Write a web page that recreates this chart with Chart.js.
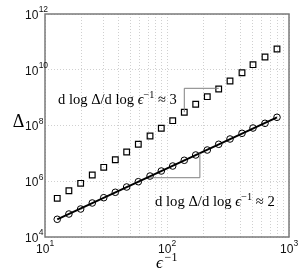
<!DOCTYPE html>
<html>
<head>
<meta charset="utf-8">
<script src="https://cdn.jsdelivr.net/npm/chart.js@4"></script>
<style>
  html, body { margin: 0; padding: 0; background: #fff; }
  #wrap { width: 304px; height: 280px; }
</style>
</head>
<body>
<div id="wrap"><canvas id="my-chart" width="304" height="280"></canvas></div>
<script>
// valeurs
const epsInv = [12.6, 15.7, 19.6, 24.4, 30.3, 37.7, 46.7, 58.2, 72.6, 89.8, 111.4, 138.6, 171.9, 213.9, 265.3, 328.5, 411.9, 506.9, 635.9, 797.3];
const deltaSquares = [2.44e5, 4.58e5, 8.43e5, 1.67e6, 3.16e6, 5.93e6, 1.12e7, 2.12e7, 4.20e7, 7.94e7, 1.49e8, 2.98e8, 5.77e8, 1.08e9, 2.04e9, 3.94e9, 7.83e9, 1.52e10, 2.86e10, 5.55e10];
const deltaCircles = [4.32e4, 6.68e4, 1.01e5, 1.66e5, 2.57e5, 4.02e5, 6.22e5, 9.64e5, 1.54e6, 2.33e6, 3.52e6, 5.65e6, 8.75e6, 1.32e7, 2.12e7, 3.28e7, 5.25e7, 8.13e7, 1.20e8, 1.97e8];
const fitX = [12.6, 797.3];
const fitY = [4.3e4, 1.97e8];
const slope3X = [138.6, 138.6, 265.3];
const slope3Y = [3.0e8, 2.16e9, 2.16e9];
const slope2X = [72.6, 186, 186];
const slope2Y = [1.34e6, 1.34e6, 1.0e7];
const xTicks = [10, 20, 30, 40, 50, 60, 70, 80, 90, 100, 200, 300, 400, 500, 600, 700, 800, 900, 1000];
const yTicks = [1e4, 1e6, 1e8, 1e10, 1e12];
const xExp = [1, 2, 3];
const yExp = [4, 6, 8, 10, 12];
const slopeLabels = ['3', '2'];

const pts = (xs, ys) => xs.map((x, i) => ({ x: x, y: ys[i] }));

const SERIF = '"Liberation Serif", "DejaVu Serif", serif';
const SANS = '"Liberation Sans", Arial, sans-serif';

// petit texte maths : d log Δ/d log ϵ^{-1} ≈ n
function drawSlopeText(ctx, x, y, n, targetW) {
    const parts = size => [
        { t: 'd log Δ/d log ', f: size + 'px ' + SERIF, dy: 0 },
        { t: 'ϵ', f: 'italic ' + size + 'px ' + SERIF, dy: 0 },
        { t: '−1', f: (size * 0.7) + 'px ' + SERIF, dy: -size * 0.42 },
        { t: ' ≈ ' + n, f: size + 'px ' + SERIF, dy: 0 }
    ];
    const width = size => parts(size).reduce((w, p) => { ctx.font = p.f; return w + ctx.measureText(p.t).width; }, 0);
    const size = 12 * targetW / width(12);
    let cx = x;
    ctx.fillStyle = '#000';
    ctx.textBaseline = 'alphabetic';
    ctx.textAlign = 'left';
    parts(size).forEach(p => {
        ctx.font = p.f;
        ctx.fillText(p.t, cx, y + p.dy);
        cx += ctx.measureText(p.t).width;
    });
}

function drawPow(ctx, e, x, y, align) {
    ctx.font = '12px ' + SANS;
    const wb = ctx.measureText('10').width;
    ctx.font = '8.5px ' + SANS;
    const we = ctx.measureText(String(e)).width;
    let left = align === 'center' ? x - (wb + we) / 2 : x;
    ctx.textBaseline = 'middle';
    ctx.textAlign = 'left';
    ctx.font = '12px ' + SANS;
    ctx.fillText('10', left, y);
    ctx.font = '8.5px ' + SANS;
    ctx.fillText(String(e), left + wb + 0.3, y - 5.5);
}

const decorPlugin = {
    id: 'decor',
    afterDraw(chart) {
        const ctx = chart.ctx;
        const a = chart.chartArea;
        const xs = chart.scales.x, ys = chart.scales.y;
        ctx.save();
        // cadre
        ctx.strokeStyle = '#7a7a7a';
        ctx.lineWidth = 1.5;
        ctx.strokeRect(a.left, a.top, a.right - a.left, a.bottom - a.top);
        // étiquettes des axes
        ctx.fillStyle = '#111';
        yExp.forEach(e => drawPow(ctx, e, 25, ys.getPixelForValue(Math.pow(10, e)) + 1.5, 'left'));
        xExp.forEach(e => drawPow(ctx, e, xs.getPixelForValue(Math.pow(10, e)), 249.5, 'center'));
        ctx.fillStyle = '#000';
        ctx.font = '18px ' + SERIF;
        ctx.textBaseline = 'middle';
        ctx.textAlign = 'center';
        ctx.fillText('Δ', 18.5, 122);
        ctx.font = 'italic 17px ' + SERIF;
        ctx.fillText('ϵ', 159.5, 264);
        ctx.font = '12px ' + SERIF;
        ctx.fillText('−1', 171, 257.5);
        // pentes
        drawSlopeText(ctx, 58, 104, slopeLabels[0], 119);
        drawSlopeText(ctx, 155, 206, slopeLabels[1], 120);
        ctx.restore();
    }
};

const ctx = document.getElementById('my-chart').getContext('2d');
new Chart(ctx, {
    type: 'scatter',
    data: {
        datasets: [
            {
                data: pts(slope3X, slope3Y), showLine: true, borderColor: '#808080',
                borderWidth: 1, pointRadius: 0
            },
            {
                data: pts(slope2X, slope2Y), showLine: true, borderColor: '#808080',
                borderWidth: 1, pointRadius: 0
            },
            {
                data: pts(fitX, fitY), showLine: true, borderColor: '#000',
                borderWidth: 2, pointRadius: 0
            },
            {
                data: pts(epsInv, deltaSquares), pointStyle: 'rect', pointRadius: 4,
                borderColor: '#000', borderWidth: 1.2, backgroundColor: 'rgba(0,0,0,0)'
            },
            {
                data: pts(epsInv, deltaCircles), pointStyle: 'circle', pointRadius: 3.3,
                borderColor: '#000', borderWidth: 1, backgroundColor: 'rgba(0,0,0,0)'
            }
        ]
    },
    options: {
        responsive: false,
        animation: false,
        layout: { padding: { left: 45, top: 14, right: 15, bottom: 43 } },
        plugins: { legend: { display: false }, tooltip: { enabled: false } },
        scales: {
            x: {
                type: 'logarithmic', min: 10, max: 1000,
                afterBuildTicks: s => { s.ticks = xTicks.map(v => ({ value: v })); },
                ticks: { display: false },
                grid: { color: '#d0d0d0', lineWidth: 1, drawTicks: false },
                border: { display: false, dash: [1, 2] }
            },
            y: {
                type: 'logarithmic', min: 1e4, max: 1e12,
                afterBuildTicks: s => { s.ticks = yTicks.map(v => ({ value: v })); },
                ticks: { display: false },
                grid: { color: '#d0d0d0', lineWidth: 1, drawTicks: false },
                border: { display: false, dash: [1, 2] }
            }
        }
    },
    plugins: [decorPlugin]
});
</script>
</body>
</html>
